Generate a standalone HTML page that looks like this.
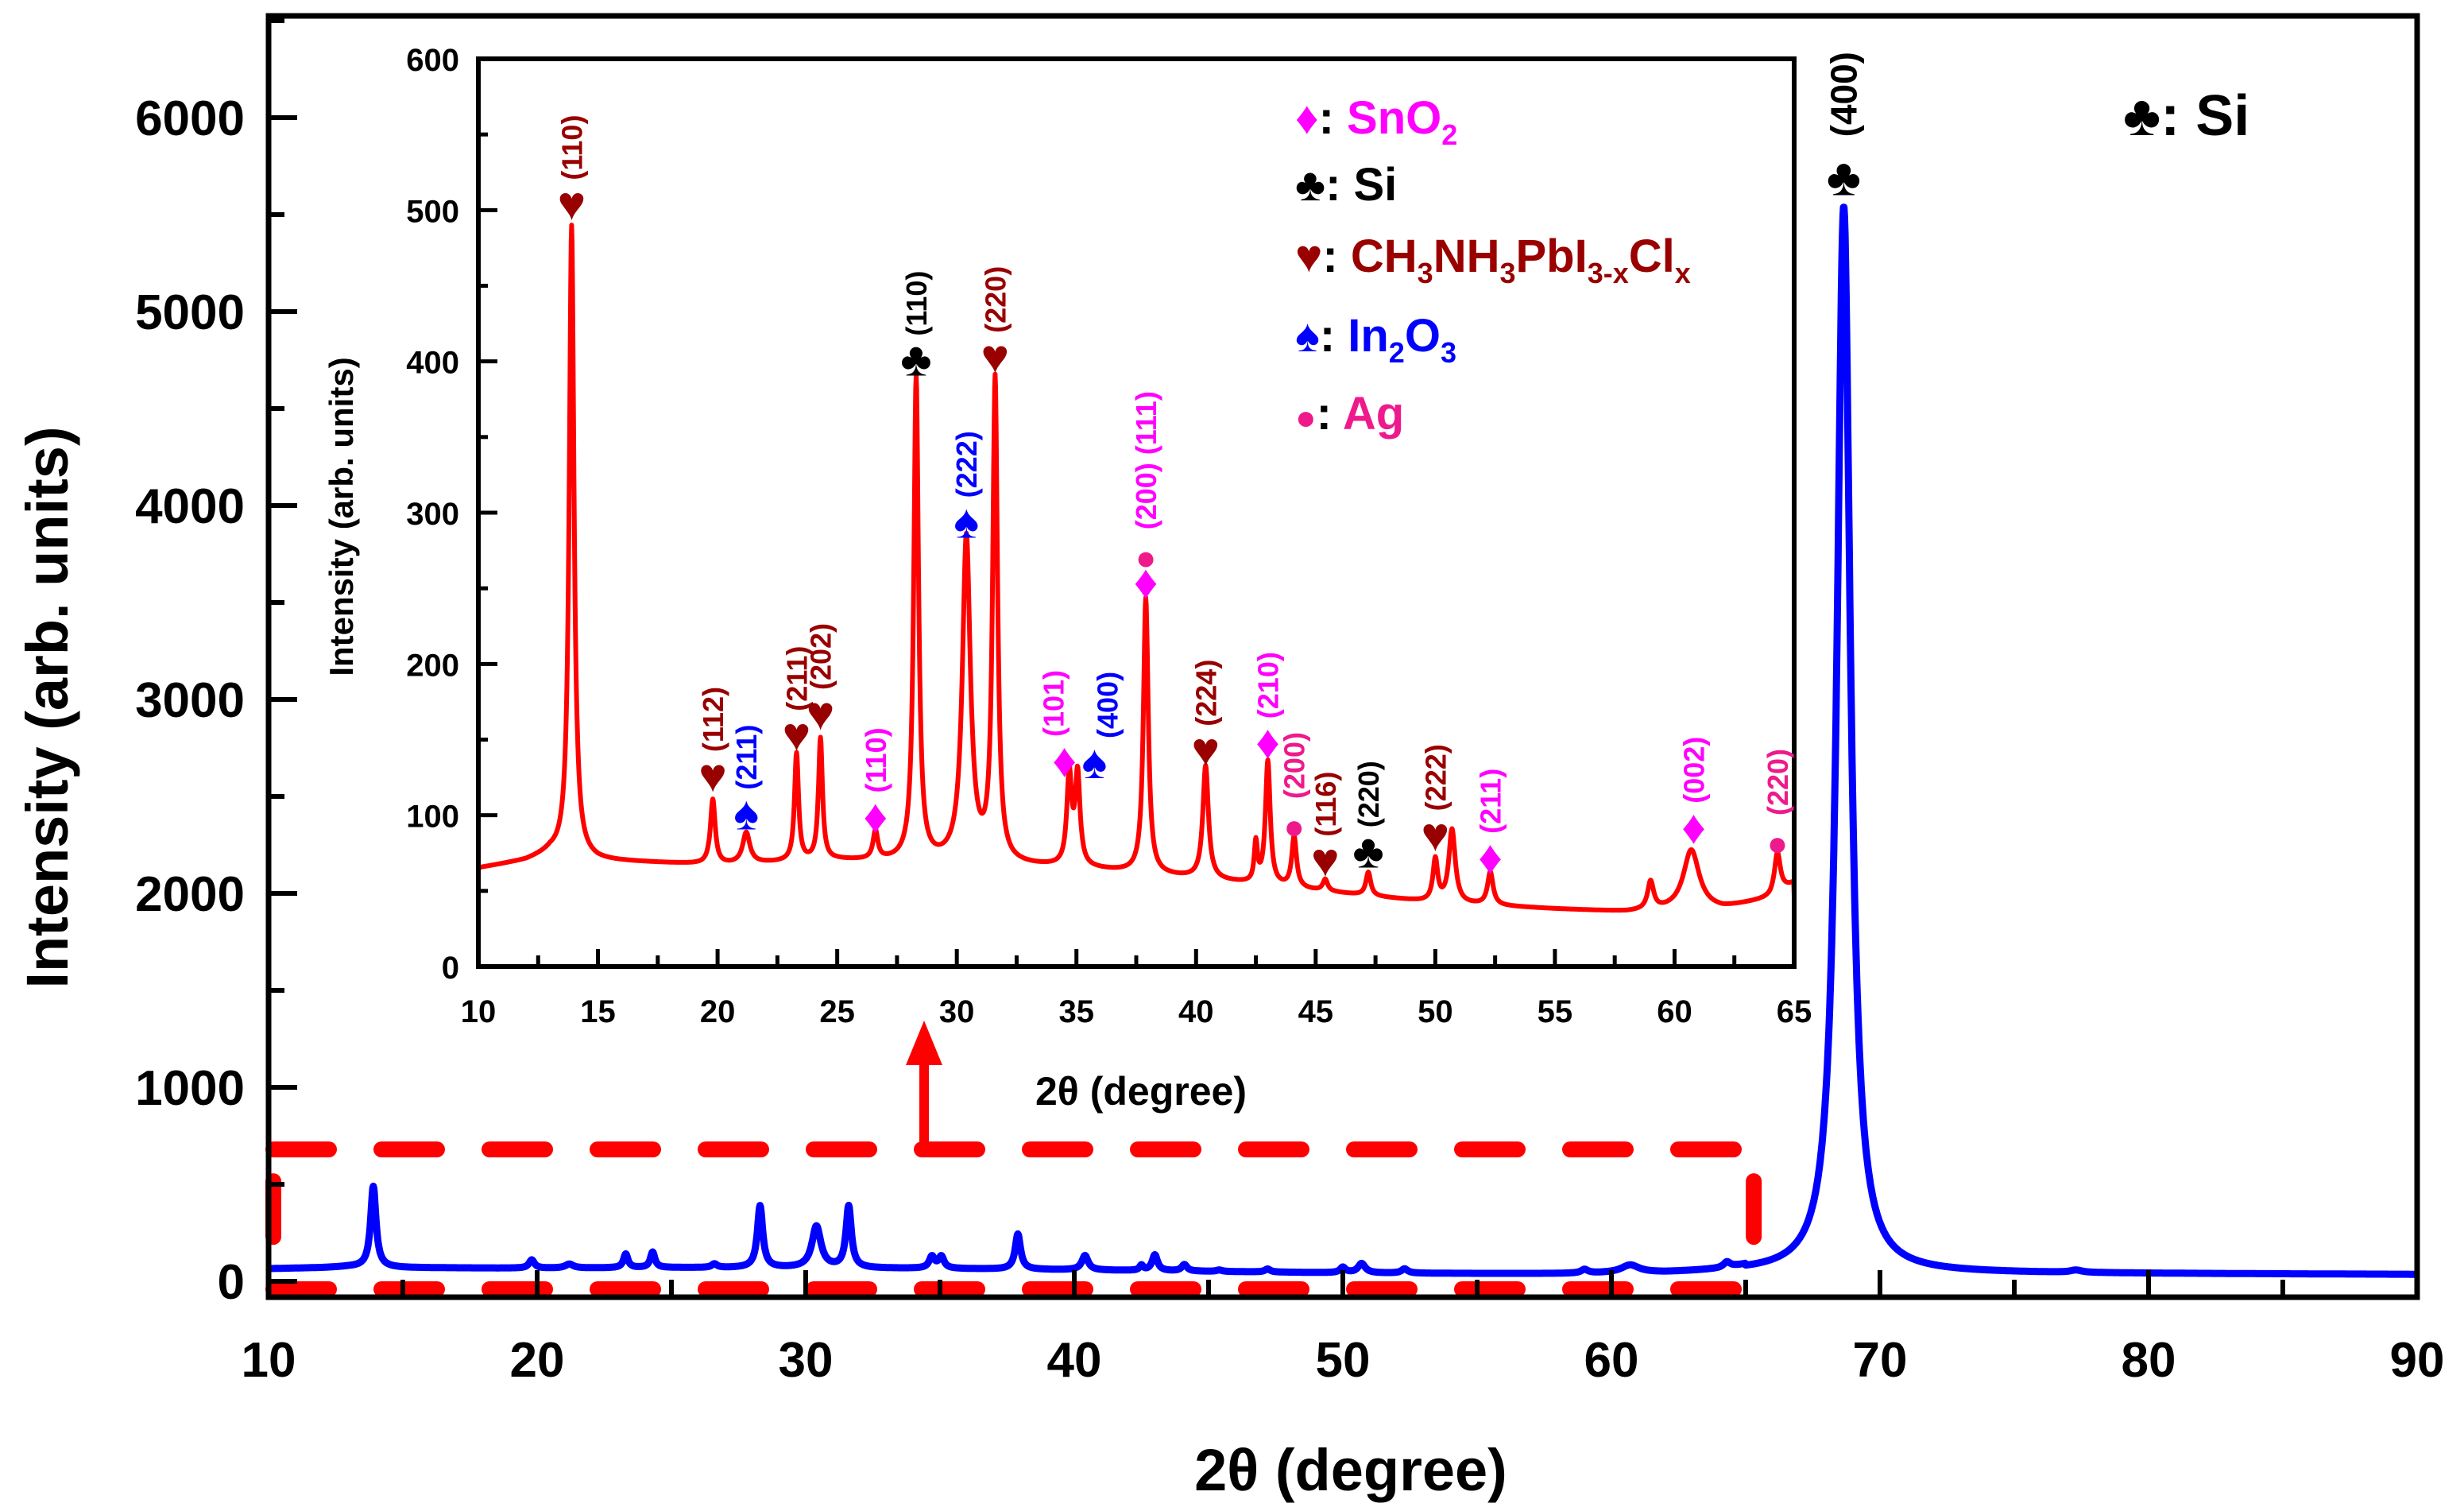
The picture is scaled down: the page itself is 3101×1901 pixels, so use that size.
<!DOCTYPE html>
<html><head><meta charset="utf-8"><style>
html,body{margin:0;padding:0;background:#fff;}
svg{display:block;font-family:"Liberation Sans",Arial,sans-serif;font-weight:bold;}
</style></head><body>
<svg id="chart" width="3101" height="1901" viewBox="0 0 3101 1901" xmlns="http://www.w3.org/2000/svg">
<g id="main"></g>
<g id="inset"></g>
</svg>
<script>
// ===== data =====
const insetBaseX = [10,12,13,15,20,25,30,35,40,45,50,55,58,62,64,65];
const insetBaseV = [65,70,75,70,67,70,68,65,58,50,42,38,36,38,45,55];
const peakPos = [13.9,19.8,21.2,23.3,24.3,26.6,28.3,30.4,31.6,34.7,35.05,37.9,40.4,42.5,43.0,44.1,45.4,47.2,50.0,50.7,52.3,59.0,60.7,64.3];
const peakTop = [490,110,88,140,150,88,388,282,385,125,125,243,132,80,135,85,57,62,70,90,62,55,77,75];
const peakWid = [0.12,0.12,0.18,0.1,0.1,0.12,0.12,0.2,0.12,0.12,0.12,0.12,0.14,0.08,0.12,0.12,0.12,0.12,0.12,0.16,0.14,0.15,0.4,0.15];
const siPos = [68.65, 77.3];
const siTop = [5500, 12];
const siWid = [0.3, 0.25];
const mainXTicks = [10,20,30,40,50,60,70,80,90];
const mainYTicks = [0,1000,2000,3000,4000,5000,6000];
const insetXTicks = [10,15,20,25,30,35,40,45,50,55,60,65];
const insetYTicks = [0,100,200,300,400,500,600];
// annotations: x, value (symbol position, inset units), symbol, label
const annX = [13.9,19.8,21.2,23.3,24.3,26.6,28.3,30.4,31.6,34.5,35.75,37.9,37.9,40.4,43.0,44.1,45.4,47.2,50.0,52.3,60.8,64.3];
const annV = [503,125,100,152,166,98,400,293,402,135,134,253,272,142,147,94,69,75,86,71,91,83];
const annSym = ["♥","♥","♠","♥","♥","♦","♣","♠","♥","♦","♠","♦","●","♥","♦","●","♥","♣","♥","♦","♦","●"];
const annLbl = ["(110)","(112)","(211)","(211)","(202)","(110)","(110)","(222)","(220)","(101)","(400)","","(200) (111)","(224)","(210)","(200)","(116)","(220)","(222)","(211)","(002)","(220)"];
const annDx = [0,0,0,0,0,0,0,0,0,-14,16,0,0,0,0,0,0,0,0,0,0,0];

// ===== helpers =====
const NS="http://www.w3.org/2000/svg";
const colOf={"♥":"#990000","♠":"#0000ff","♦":"#ff00ff","♣":"#000000","●":"#ee1a8c"};
function mk(tag,parent,attrs){const e=document.createElementNS(NS,tag);for(const k in attrs)e.setAttribute(k,attrs[k]);parent.appendChild(e);return e;}
function baseAt(x){for(let i=0;i<insetBaseX.length-1;i++){if(x<=insetBaseX[i+1]){const t=(x-insetBaseX[i])/(insetBaseX[i+1]-insetBaseX[i]);return insetBaseV[i]+t*(insetBaseV[i+1]-insetBaseV[i]);}}return insetBaseV[insetBaseV.length-1];}
function lor(x,p,a,w){const d=(x-p)/w;return a/(1+d*d);}
function spectrum(x){let v=baseAt(Math.min(x,65));if(x>65)v=Math.max(45+(x-65)*-0.4,35);
  for(let i=0;i<peakPos.length;i++){const amp=peakTop[i]-baseAt(peakPos[i]);v+=lor(x,peakPos[i],amp,peakWid[i]);}return v;}

// ===== main axes =====
const M={l:338,r:3042,t:20,b:1632};
const mx=x=>M.l+(x-10)*(M.r-M.l)/80;
const my=v=>1612-v*0.244;
const main=document.getElementById('main');
let d="";for(let x=10;x<=90.0001;x+=0.02){let v=spectrum(x);for(let i=0;i<siPos.length;i++)v+=lor(x,siPos[i],siTop[i],siWid[i]);d+=(d?"L":"M")+mx(x).toFixed(1)+","+my(v).toFixed(1);}
const bl=mk('path',main,{d:d,fill:'none',stroke:'#0000ff','stroke-width':9,'stroke-linejoin':'round'});


const bx0=mx(10)+6, bx1=mx(65.3), by0=my(680), by1=1622;
const box=mk('path',main,{d:`M${bx0},${by0} L${bx1},${by0} M${bx1},${by0+40} L${bx1},${by1} M${bx0},${by1} L${bx1},${by1} M${bx0},${by0+40} L${bx0},${by1}`,fill:'none',stroke:'#ff0000','stroke-width':20,'stroke-dasharray':'70 66','stroke-linecap':'round'});


const arr=mk('g',main,{});


mk('line',arr,{x1:1163,y1:1446,x2:1163,y2:1330,stroke:'#ff0000','stroke-width':12});
mk('polygon',arr,{points:'1140,1340 1186,1340 1163,1284',fill:'#ff0000'});
const fr=mk('rect',main,{x:M.l,y:M.t,width:M.r-M.l,height:M.b-M.t,fill:'none',stroke:'#000','stroke-width':7});


for(let x=10;x<=90;x+=5){const maj=x%10===0;mk('line',main,{x1:mx(x),y1:M.b,x2:mx(x),y2:M.b-(maj?34:22),stroke:'#000','stroke-width':6});}
for(const x of mainXTicks){const t=mk('text',main,{x:mx(x),y:1732,'font-size':62,'text-anchor':'middle'});t.textContent=x;

}
for(let v=0;v<=6500;v+=500){const maj=v%1000===0;mk('line',main,{x1:M.l,y1:my(v),x2:M.l+(maj?36:20),y2:my(v),stroke:'#000','stroke-width':6});}
for(const v of mainYTicks){const t=mk('text',main,{x:308,y:my(v)+22,'font-size':62,'text-anchor':'end'});t.textContent=v;

}
let tt=mk('text',main,{x:1700,y:1875,'font-size':74,'text-anchor':'middle'});tt.textContent="2θ (degree)";


tt=mk('text',main,{x:0,y:0,'font-size':74,'text-anchor':'middle',transform:'translate(85,890) rotate(-90)'});tt.textContent="Intensity (arb. units)";


tt=mk('text',main,{x:mx(68.65),y:my(5600),'font-size':66,'text-anchor':'middle',fill:'#000'});tt.textContent="♣";


tt=mk('text',main,{x:0,y:0,'font-size':46,'text-anchor':'start',transform:`translate(${mx(68.65)+16},${my(5900)}) rotate(-90)`});tt.textContent="(400)";


tt=mk('text',main,{x:2672,y:170,'font-size':72});tt.textContent="♣: Si";



// ===== inset =====
const I={l:602,r:2258,t:74,b:1216};
const ix=x=>I.l+(x-10)*(I.r-I.l)/55;
const iy=v=>I.b-v*(I.b-I.t)/600;
const ins=document.getElementById('inset');
mk('rect',ins,{x:I.l,y:I.t,width:I.r-I.l,height:I.b-I.t,fill:'#fff'});
d="";for(let x=10;x<=65.0001;x+=0.02){d+=(d?"L":"M")+ix(x).toFixed(1)+","+iy(spectrum(x)).toFixed(1);}
const rl=mk('path',ins,{d:d,fill:'none',stroke:'#ff0000','stroke-width':6,'stroke-linejoin':'round'});


const ifr=mk('rect',ins,{x:I.l,y:I.t,width:I.r-I.l,height:I.b-I.t,fill:'none',stroke:'#000','stroke-width':6});


for(let x=10;x<=65;x+=2.5){const maj=x%5===0;mk('line',ins,{x1:ix(x),y1:I.b,x2:ix(x),y2:I.b-(maj?22:14),stroke:'#000','stroke-width':5});}
for(const x of insetXTicks){const t=mk('text',ins,{x:ix(x),y:1286,'font-size':40,'text-anchor':'middle'});t.textContent=x;

}
for(let v=0;v<=600;v+=50){const maj=v%100===0;mk('line',ins,{x1:I.l,y1:iy(v),x2:I.l+(maj?24:12),y2:iy(v),stroke:'#000','stroke-width':5});}
for(const v of insetYTicks){const t=mk('text',ins,{x:578,y:iy(v)+15,'font-size':40,'text-anchor':'end'});t.textContent=v;

}
tt=mk('text',ins,{x:1436,y:1390,'font-size':50,'text-anchor':'middle'});tt.textContent="2θ (degree)";


tt=mk('text',ins,{x:0,y:0,'font-size':42,'text-anchor':'middle',transform:'translate(444,650) rotate(-90)'});tt.textContent="Intensity (arb. units)";


for(let i=0;i<annX.length;i++){
  const c=colOf[annSym[i]];
  const s=mk('text',ins,{x:ix(annX[i]),y:iy(annV[i])+18,'font-size':annSym[i]==="●"?44:60,'text-anchor':'middle',fill:c});
  s.textContent=annSym[i];
  
  
  if(annLbl[i]){
    const lc=annSym[i]==="●"&&annLbl[i].length<6?'#ee1a8c':(annSym[i]==="●"?'#ff00ff':c);
    const l=mk('text',ins,{x:0,y:0,'font-size':36,fill:lc,transform:`translate(${ix(annX[i])+13+annDx[i]},${iy(annV[i])-32}) rotate(-90)`});
    l.textContent=annLbl[i];
    
    
  }
}
const legY=[168,252,342,442,540];
const legSym=["♦","♣","♥","♠","●"];
const legHtml=[
 ['SnO','2',''],['Si','',''],['CH','3','NH','3','PbI','3-x','Cl','x'],['In','2','O','3'],['Ag','','']];
for(let i=0;i<5;i++){
  const g=mk('text',ins,{x:1630,y:legY[i],'font-size':58,fill:colOf[legSym[i]]});
  
  
  const s1=mk('tspan',g,{'font-size':legSym[i]==="●"?44:58});s1.textContent=legSym[i];
  const s2=mk('tspan',g,{fill:'#000'});s2.textContent=": ";
  const parts=legHtml[i];
  for(let j=0;j<parts.length;j++){if(!parts[j])continue;
    const sp=mk('tspan',g,j%2?{'font-size':36,dy:14}:{dy:(j>0&&parts[j-1])?-14:0});sp.textContent=parts[j];}
}
</script>
</body></html>
